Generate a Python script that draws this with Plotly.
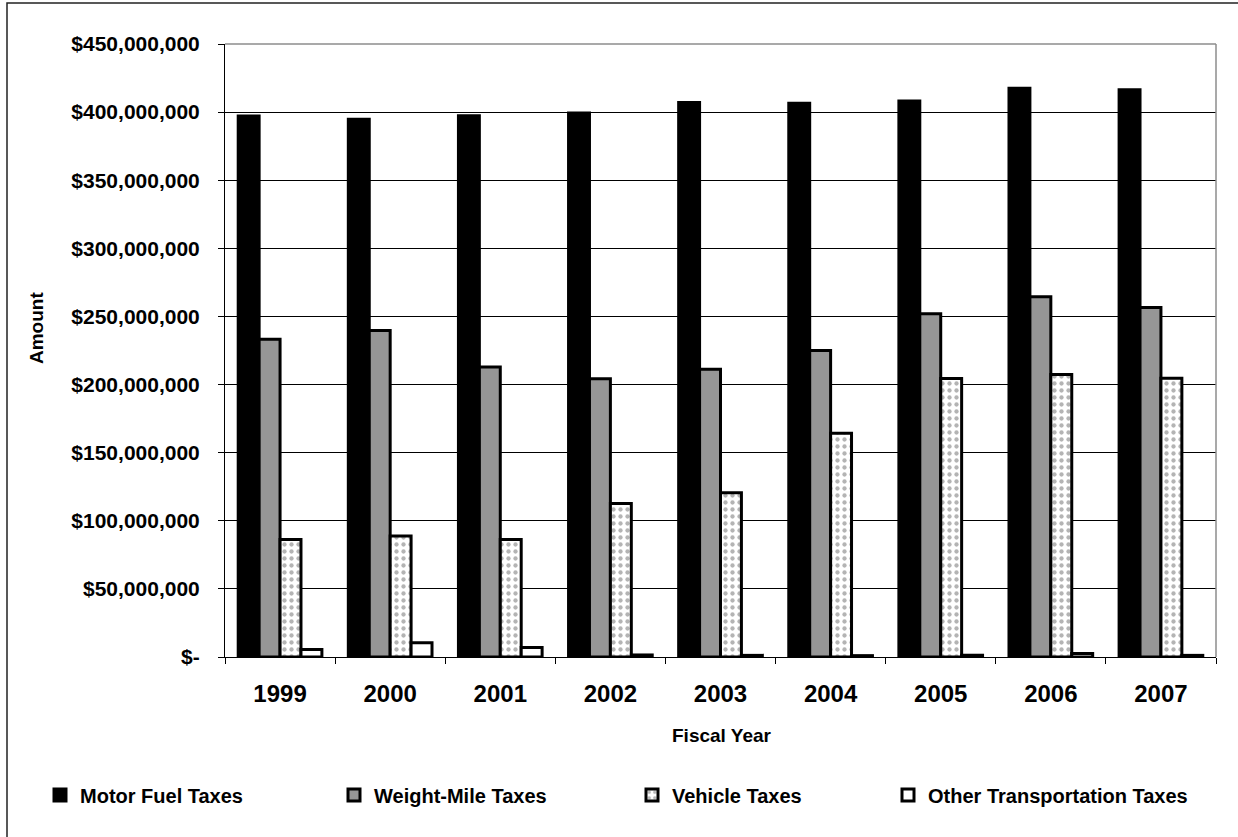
import plotly.graph_objects as go

# Transportation tax revenue by fiscal year
years = ["1999", "2000", "2001", "2002", "2003", "2004", "2005", "2006", "2007"]

motor_fuel = [397.1e6, 394.8e6, 397.4e6, 399.3e6, 407.0e6, 406.5e6, 408.2e6, 417.6e6, 416.4e6]
weight_mile = [233.2e6, 239.6e6, 212.8e6, 204.3e6, 211.2e6, 225.0e6, 252.0e6, 264.5e6, 256.6e6]
vehicle = [86.3e6, 88.8e6, 86.3e6, 112.7e6, 120.6e6, 164.2e6, 204.5e6, 207.4e6, 204.6e6]
other_transport = [5.5e6, 10.5e6, 7.0e6, 1.5e6, 1.2e6, 1.0e6, 1.3e6, 2.5e6, 1.2e6]

y_ticks = [0, 50e6, 100e6, 150e6, 200e6, 250e6, 300e6, 350e6, 400e6, 450e6]
y_tick_text = ["$-", "$50,000,000", "$100,000,000", "$150,000,000", "$200,000,000",
               "$250,000,000", "$300,000,000", "$350,000,000", "$400,000,000",
               "$450,000,000"]

FONT = "Liberation Sans, Arial, sans-serif"
OUTLINE = dict(color="black", width=3)

L, R, T, B = 225, 22, 44, 180
W, H = 1238, 837
pw, ph = W - L - R, H - T - B


def px_x(x):
    return (x - L) / pw


def px_y(y):
    return (H - B - y) / ph


series = [
    ("Motor Fuel Taxes", motor_fuel, dict(color="black", line=OUTLINE)),
    ("Weight-Mile Taxes", weight_mile, dict(color="#969696", line=OUTLINE)),
    ("Vehicle Taxes", vehicle,
     dict(color="white", line=OUTLINE,
          pattern=dict(shape=".", fgcolor="#b4b4b4", bgcolor="white",
                       size=7, solidity=0.3, fillmode="replace"))),
    ("Other Transportation Taxes", other_transport, dict(color="white", line=OUTLINE)),
]
# one legend box per series so each entry sits at its own x position
legend_left_px = [40, 334, 632, 888]

fig = go.Figure()
legend_layouts = {}
for i, (name, values, marker) in enumerate(series):
    key = "legend" if i == 0 else f"legend{i + 1}"
    fig.add_trace(go.Bar(name=name, x=years, y=values, marker=marker, legend=key))
    legend_layouts[key] = dict(
        orientation="h", x=px_x(legend_left_px[i]), xanchor="left",
        y=px_y(795), yanchor="middle",
        font=dict(size=20, family=FONT, weight="bold"),
        itemwidth=30, bgcolor="rgba(0,0,0,0)",
    )

fig.update_layout(
    width=W, height=H,
    margin=dict(l=L, r=R, t=T, b=B, pad=0),
    paper_bgcolor="white", plot_bgcolor="white",
    barmode="group", bargap=0.24, bargroupgap=0,
    font=dict(family=FONT, color="black", weight="bold"),
    showlegend=True,
    xaxis=dict(type="category", showline=True, linecolor="black", linewidth=1,
               ticks="outside", tickson="boundaries", ticklen=6,
               tickcolor="black", tickwidth=1, showgrid=False,
               tickfont=dict(size=24, family=FONT, weight="bold"),
               ticklabelstandoff=15),
    yaxis=dict(range=[0, 450e6], tickvals=y_ticks, ticktext=y_tick_text,
               showline=True, linecolor="black", linewidth=1,
               ticks="outside", ticklen=6, tickcolor="black", tickwidth=1,
               showgrid=True, gridcolor="black", gridwidth=1, zeroline=False,
               tickfont=dict(size=21, family=FONT, weight="bold"),
               ticklabelstandoff=14),
    annotations=[
        dict(text="Amount", textangle=-90, x=px_x(36), y=px_y(328),
             xanchor="center", yanchor="middle",
             xref="paper", yref="paper", showarrow=False,
             font=dict(size=19, family=FONT, weight="bold")),
        dict(text="Fiscal Year", x=px_x(722), y=px_y(735),
             xanchor="center", yanchor="middle",
             xref="paper", yref="paper", showarrow=False,
             font=dict(size=19, family=FONT, weight="bold")),
    ],
    shapes=[
        # plot-area frame on the top and right
        dict(type="line", xref="paper", yref="paper", x0=0, x1=1, y0=1, y1=1,
             line=dict(color="#8c8c8c", width=1.5), layer="above"),
        dict(type="line", xref="paper", yref="paper", x0=1, x1=1, y0=0, y1=1,
             line=dict(color="#8c8c8c", width=1.5), layer="above"),
        # chart-area border
        dict(type="rect", xref="paper", yref="paper",
             x0=px_x(7), x1=px_x(1250), y0=px_y(850), y1=px_y(3),
             line=dict(color="#222222", width=1.5), fillcolor="rgba(0,0,0,0)"),
    ],
    **legend_layouts,
)

fig.write_html("out.html")
